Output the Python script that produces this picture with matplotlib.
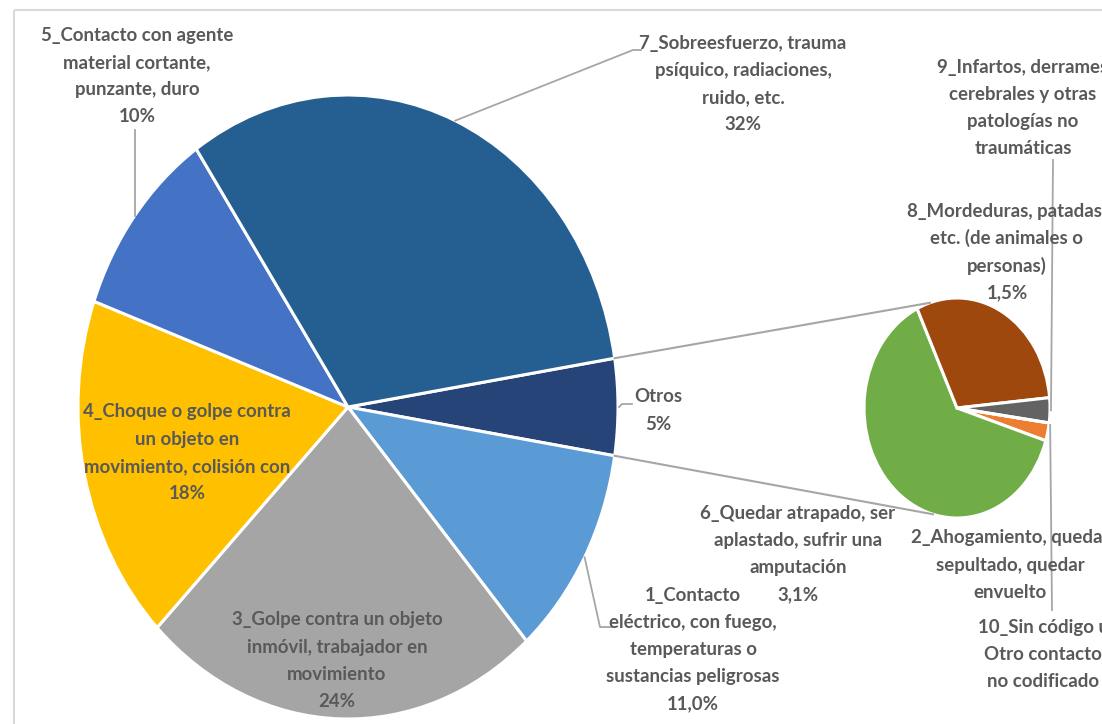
import numpy as np
import matplotlib.pyplot as plt

W, H = 1102, 724

# Pie principal (Otros agrupa las causas pequeñas)
main_names = ["Otros",
              "1_Contacto\neléctrico, con fuego,\ntemperaturas o\nsustancias peligrosas",
              "3_Golpe contra un objeto\ninmóvil, trabajador en\nmovimiento",
              "4_Choque o golpe contra\nun objeto en\nmovimiento, colisión con",
              "5_Contacto con agente\nmaterial cortante,\npunzante, duro",
              "7_Sobreesfuerzo, trauma\npsíquico, radiaciones,\nruido, etc."]
main_values = [5, 11.0, 24, 18, 10, 32]
main_pct = ["5%", "11,0%", "24%", "18%", "10%", "32%"]
main_colors = ["#264478", "#5B9BD5", "#A5A5A5", "#FFC000", "#4472C4", "#255E91"]

# Pie secundario (desglose de Otros)
sec_names = ["2_Ahogamiento, quedar\nsepultado, quedar\nenvuelto",
             "6_Quedar atrapado, ser\naplastado, sufrir una\namputación",
             "8_Mordeduras, patadas,\netc. (de animales o\npersonas)",
             "9_Infartos, derrames\ncerebrales y otras\npatologías no\ntraumáticas",
             "10_Sin código u\nOtro contacto\nno codificado"]
sec_values = [0.13, 3.1, 1.5, 0.18, 0.0]
sec_pct = ["", "3,1%", "1,5%", "", ""]
sec_colors = ["#ED7D31", "#70AD47", "#9E480E", "#636363", "#FFFFFF"]

# geometria en pixeles (centro y radios; la imagen esta estirada en vertical)
main_geo = (348, 407, 270, 312)
sec_geo = (957, 408, 93, 110)

TXT = "#595959"
LINE = "#A6A6A6"
plt.rcParams['font.family'] = ['Lato', 'DejaVu Sans']
plt.rcParams['font.weight'] = 'bold'

fig = plt.figure(figsize=(W / 100, H / 100), dpi=100)


def pie_axes(geo):
    cx, cy, rx, ry = geo
    ax = fig.add_axes([(cx - rx) / W, 1 - (cy + ry) / H, 2 * rx / W, 2 * ry / H])
    return ax


def edge(geo, ang, r=1.0):
    cx, cy, rx, ry = geo
    a = np.deg2rad(ang)
    return cx + r * rx * np.cos(a), cy - r * ry * np.sin(a)


ax1 = pie_axes(main_geo)
w1, _ = ax1.pie(main_values, colors=main_colors, startangle=180 * main_values[0] / sum(main_values),
                counterclock=False, radius=1,
                wedgeprops=dict(edgecolor="white", linewidth=2.2))
ax2 = pie_axes(sec_geo)
w2, _ = ax2.pie(sec_values, colors=sec_colors, startangle=-7.8, counterclock=False, radius=1,
                wedgeprops=dict(edgecolor="white", linewidth=2.2))
for ax in (ax1, ax2):
    ax.set_aspect('auto')
    ax.set_xlim(-1, 1)
    ax.set_ylim(-1, 1)
    ax.axis('off')
for w in list(w1) + list(w2):
    w.set_clip_on(False)

# capa de texto y lineas en pixeles
ov = fig.add_axes([0, 0, 1, 1])
ov.set_xlim(0, W)
ov.set_ylim(H, 0)
ov.axis('off')
ov.patch.set_alpha(0)

ov.add_patch(plt.Rectangle((14, 10), 1200, 800, fill=False, edgecolor="#D9D9D9", linewidth=1.5))


def label(x, y, text, step=27.3):
    for i, ln in enumerate(text.split("\n")):
        ov.text(x, y + i * step, ln, ha="center", va="center", color=TXT,
                fontsize=13.4, fontweight="bold")


def mid(w):
    return (w.theta1 + w.theta2) / 2


# etiquetas del pie principal
main_pos = [(658, 397), (693, 595), (337, 620), (187, 412), (137, 35), (743, 43)]
for name, pct, (x, y) in zip(main_names, main_pct, main_pos):
    label(x, y, name + "\n" + pct)

# lineas guia principales
p = edge(main_geo, mid(w1[4]))
ov.plot([p[0], p[0]], [p[1], 130], color=LINE, lw=1.3)
p = edge(main_geo, mid(w1[5]))
ov.plot([p[0], 633, 641], [p[1], 50, 50], color=LINE, lw=1.3)
p = edge(main_geo, mid(w1[0]))
ov.plot([p[0] + 1, 622, 632], [p[1], 404, 404], color=LINE, lw=1.3)
p = edge(main_geo, mid(w1[1]))
ov.plot([p[0], 600, 612], [p[1], 627, 627], color=LINE, lw=1.3)

# conectores entre pies
a = edge(main_geo, w1[0].theta2)
b = edge(sec_geo, 107)
ov.plot([a[0], b[0]], [a[1], b[1]], color=LINE, lw=1.5)
a = edge(main_geo, w1[0].theta1)
b = edge(sec_geo, -105)
ov.plot([a[0], b[0]], [a[1], b[1]], color=LINE, lw=1.5)

# etiquetas del pie secundario
sec_pos = [(1010, 538), (798, 513), (1007, 211), (1023, 67), (1043, 627)]
for name, pct, (x, y) in zip(sec_names, sec_pct, sec_pos):
    label(x, y, name + ("\n" + pct if pct else ""))

p = edge(sec_geo, mid(w2[3]))
ov.plot([p[0] + 1, 1053], [p[1], 160], color=LINE, lw=1.3)
p = edge(sec_geo, mid(w2[4]))
ov.plot([p[0] + 1, 1052], [p[1] + 2, 610], color=LINE, lw=1.3)

fig.savefig("out.png", dpi=100)
